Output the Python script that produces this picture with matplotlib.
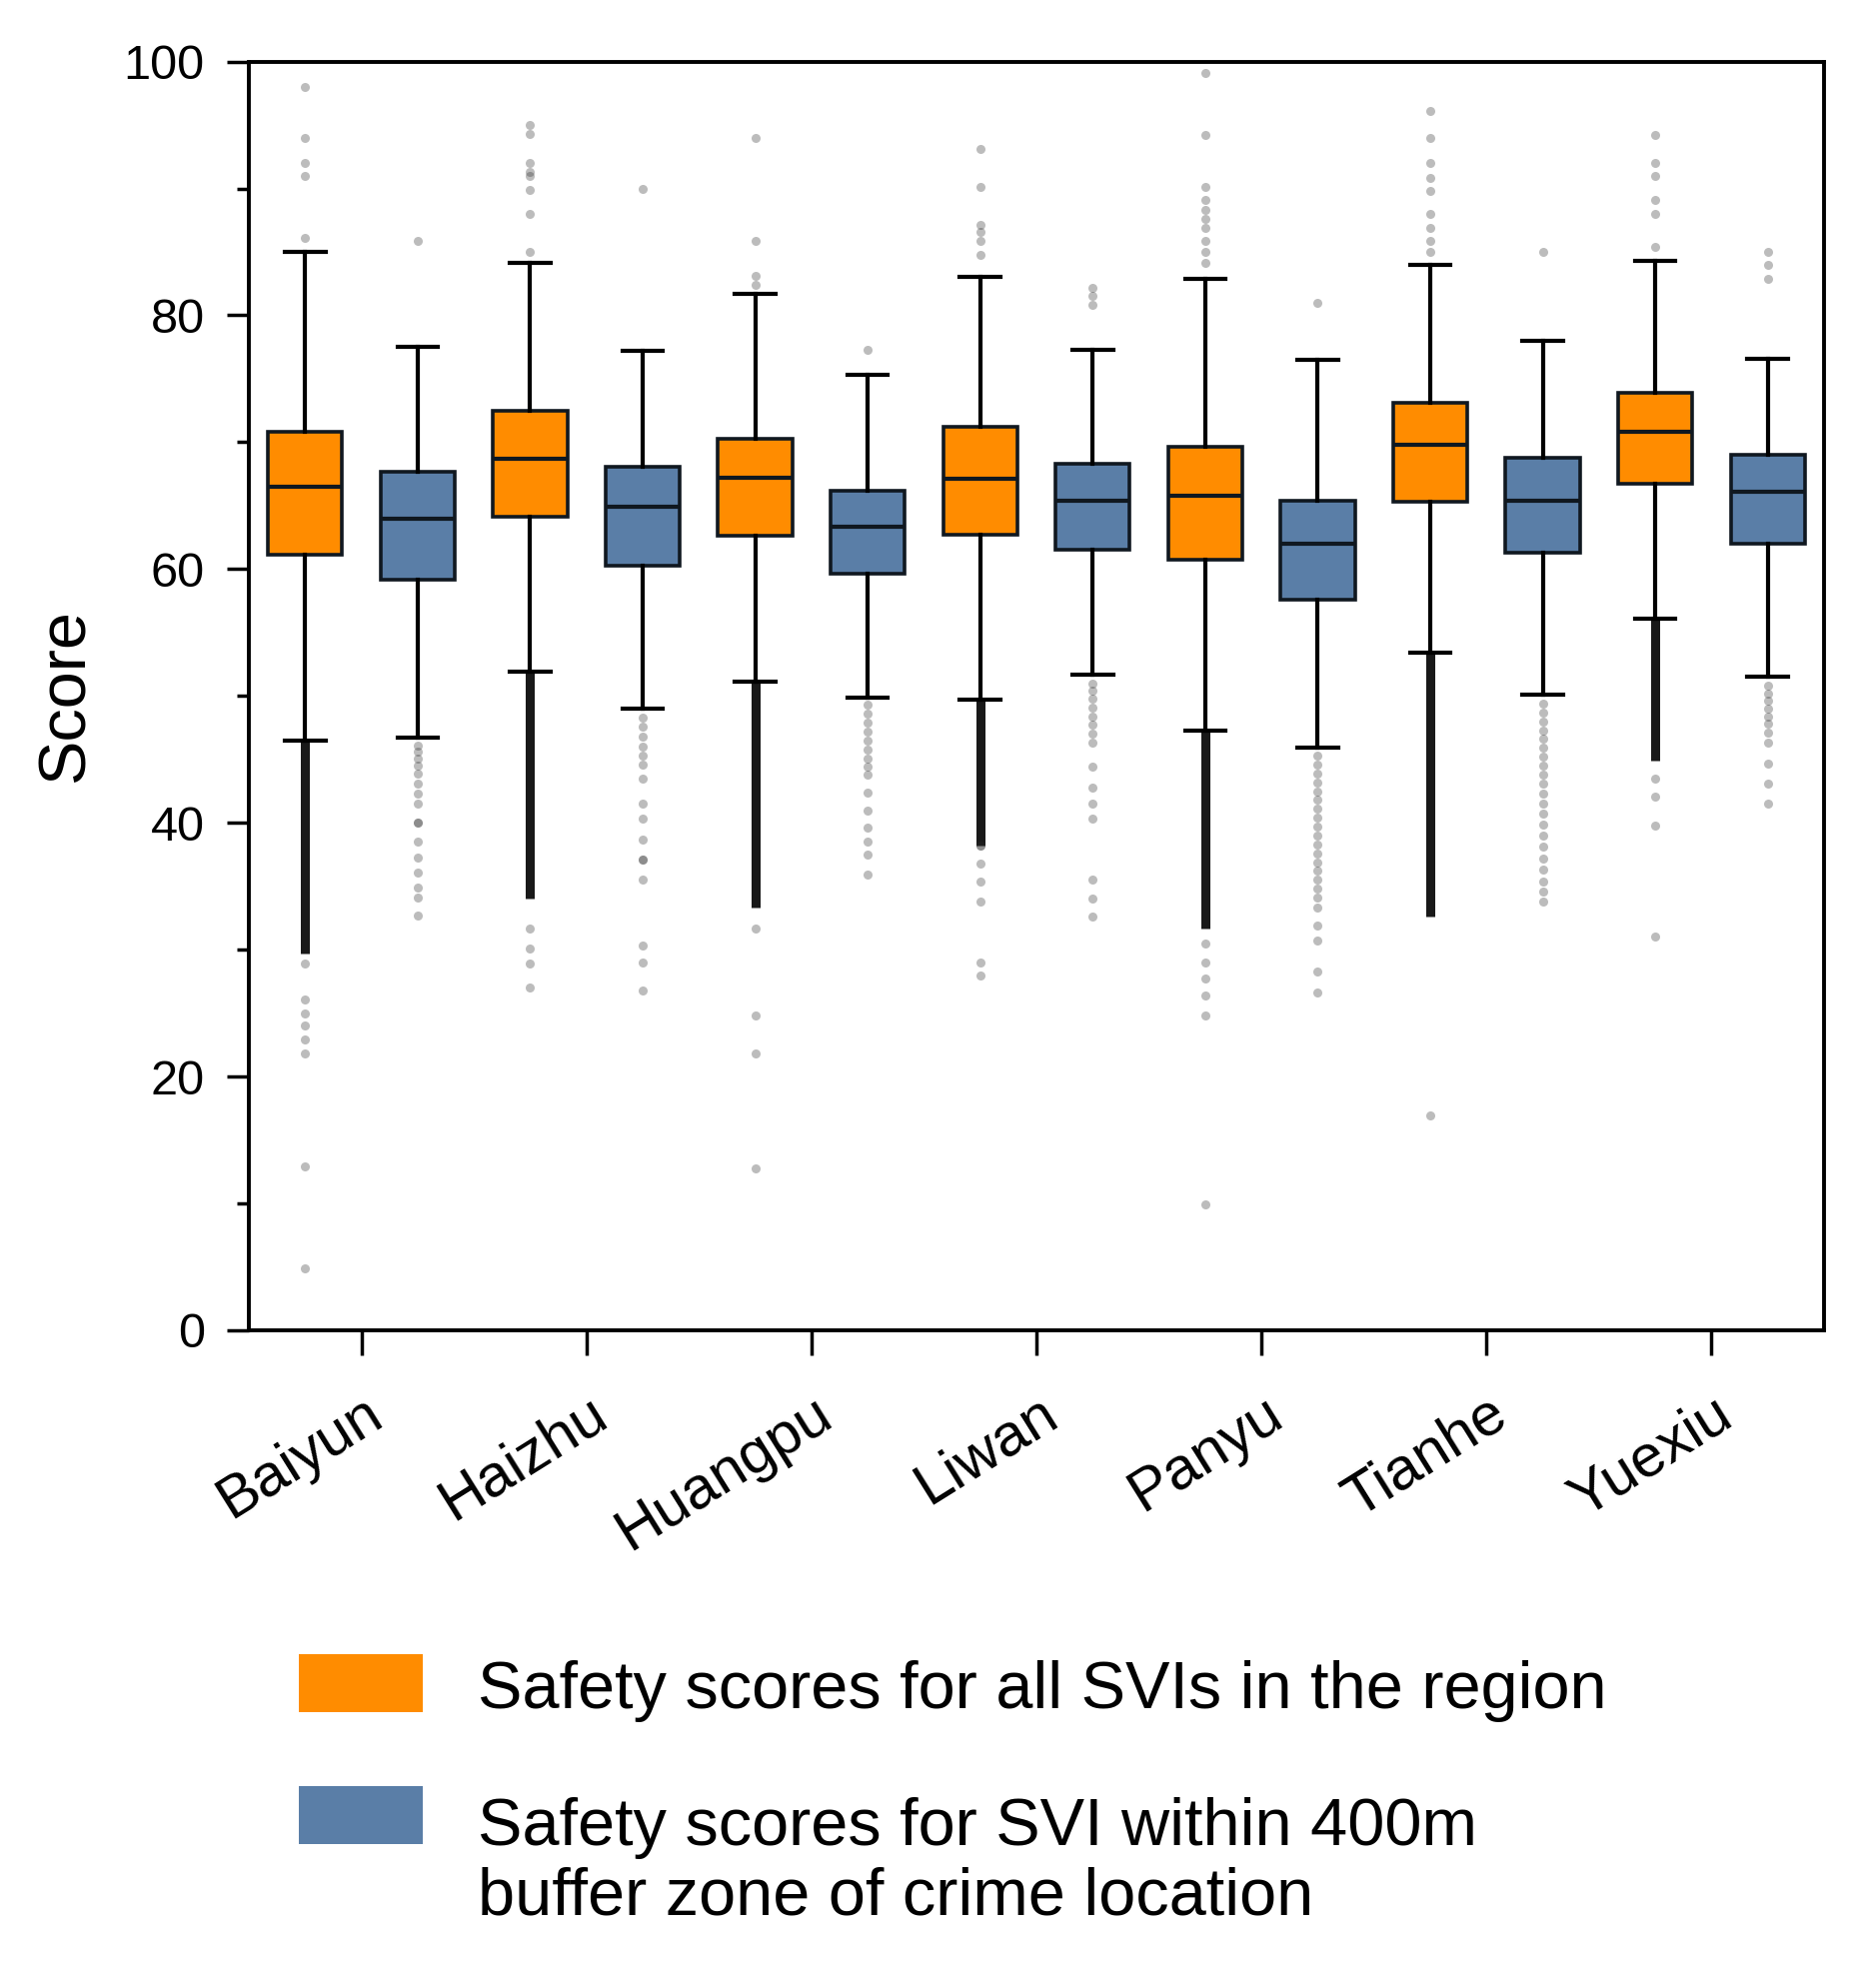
# Box plot of safety scores per district: all SVIs vs SVIs near crime locations
import numpy as np
import matplotlib
matplotlib.use('Agg')
import matplotlib.pyplot as plt
from matplotlib.patches import Rectangle
from matplotlib.transforms import ScaledTranslation
from matplotlib.ticker import MultipleLocator

plt.rcParams['font.family'] = ['Liberation Sans', 'DejaVu Sans']

districts = ['Baiyun', 'Haizhu', 'Huangpu', 'Liwan', 'Panyu', 'Tianhe', 'Yuexiu']

# Safety scores for all SVIs in the region
all_lo = [46.5, 51.9, 51.1, 49.7, 47.3, 53.4, 56.1]
all_q1 = [61.1, 64.1, 62.6, 62.7, 60.7, 65.3, 66.7]
all_med = [66.5, 68.7, 67.2, 67.1, 65.8, 69.8, 70.8]
all_q3 = [70.8, 72.5, 70.3, 71.2, 69.6, 73.1, 73.9]
all_hi = [85.0, 84.1, 81.7, 83.0, 82.9, 84.0, 84.3]

all_upper_out = [
    [98.0, 94.0, 92.0, 91.0, 86.1],
    [95.0, 94.3, 92.0, 91.3, 91.0, 89.9, 88.0, 85.0],
    [94.0, 85.9, 83.1, 82.4],
    [93.1, 90.1, 87.1, 86.6, 85.9, 84.8],
    [99.1, 94.2, 90.1, 89.1, 88.3, 87.6, 86.9, 85.9, 85.0, 84.1],
    [96.1, 94.0, 92.0, 90.8, 89.8, 88.0, 86.9, 85.9, 85.0],
    [94.2, 92.0, 91.0, 89.1, 88.0, 85.4],
]
all_lower_out = [
    [28.9, 26.1, 25.0, 24.0, 22.9, 21.8, 12.9, 4.9],
    [31.7, 30.1, 28.9, 27.0],
    [31.7, 24.8, 21.8, 12.8],
    [38.2, 38.2, 36.8, 35.4, 33.8, 29.0, 28.0],
    [30.5, 29.0, 27.7, 26.4, 24.8, 9.9],
    [16.9],
    [43.5, 42.1, 39.8, 31.0],
]
# runs of outliers so dense they merge into a solid streak (low, high)
all_dense_lo = [29.7, 34.0, 33.3, 38.2, 31.7, 32.6, 44.9]
all_dense_hi = [46.5, 51.9, 51.1, 49.7, 47.3, 53.4, 56.1]

# Safety scores for SVI within 400m buffer zone of crime location
buf_lo = [46.7, 49.0, 49.9, 51.7, 45.9, 50.1, 51.5]
buf_q1 = [59.2, 60.3, 59.6, 61.5, 57.6, 61.3, 62.0]
buf_med = [64.0, 64.9, 63.3, 65.4, 62.0, 65.4, 66.1]
buf_q3 = [67.7, 68.1, 66.2, 68.3, 65.4, 68.8, 69.0]
buf_hi = [77.5, 77.2, 75.3, 77.3, 76.5, 78.0, 76.6]

buf_upper_out = [
    [85.9],
    [90.0],
    [77.3],
    [82.2, 81.5, 80.8],
    [81.0],
    [85.0],
    [85.0, 84.0, 82.9],
]
buf_lower_out = [
    [46.1, 45.6, 45.1, 44.5, 43.9, 43.1, 42.3, 41.5, 40.0, 40.0, 38.5, 37.3, 36.1, 34.9, 34.1, 32.7],
    [48.3, 47.6, 46.8, 46.0, 45.3, 44.6, 43.5, 41.5, 40.3, 38.7, 37.1, 37.1, 35.5, 30.3, 29.0, 26.8],
    [49.3, 48.6, 47.9, 47.2, 46.5, 45.8, 45.1, 44.4, 43.8, 42.4, 41.0, 39.6, 38.5, 37.5, 35.9],
    [51.0, 50.4, 49.8, 49.1, 48.4, 47.7, 47.0, 46.3, 44.4, 42.8, 41.5, 40.3, 35.5, 34.0, 32.6],
    [45.3, 44.6, 43.9, 43.2, 42.5, 41.8, 41.1, 40.4, 39.7, 39.0, 38.3, 37.6, 36.9, 36.2,
     35.5, 34.8, 34.1, 33.3, 31.9, 30.7, 28.3, 26.6],
    [49.4, 48.7, 48.0, 47.3, 46.6, 45.9, 45.2, 44.5, 43.8, 43.1, 42.3, 41.5, 40.7, 39.9,
     39.0, 38.1, 37.2, 36.3, 35.4, 34.6, 33.8],
    [50.8, 50.2, 49.6, 49.0, 48.4, 47.8, 47.1, 46.3, 44.7, 43.1, 41.5],
]

legend_labels = ['Safety scores for all SVIs in the region',
                 'Safety scores for SVI within 400m\nbuffer zone of crime location']

ORANGE = '#FF8C00'
BLUE = '#5A7EA7'
EDGE = '#101820'


def make_stats(lo, q1, med, q3, hi, upper, lower):
    stats = []
    for i in range(len(lo)):
        stats.append(dict(whislo=lo[i], q1=q1[i], med=med[i], q3=q3[i],
                          whishi=hi[i], fliers=upper[i] + lower[i]))
    return stats


W, H = 1877, 1977
fig = plt.figure(figsize=(W / 100, H / 100), dpi=100)
ax = fig.add_axes([249 / W, 1 - 1331 / H, 1576 / W, 1269.4 / H])

x = np.arange(len(districts))

# dense outlier streaks below the orange boxes
ax.vlines(x - 0.25, all_dense_lo, all_dense_hi, colors='#000000', linewidth=6.5,
          alpha=0.9, zorder=1)

groups = [
    (make_stats(all_lo, all_q1, all_med, all_q3, all_hi, all_upper_out, all_lower_out), -0.25, ORANGE),
    (make_stats(buf_lo, buf_q1, buf_med, buf_q3, buf_hi, buf_upper_out, buf_lower_out), 0.25, BLUE),
]
for stats, off, color in groups:
    ax.bxp(stats, positions=x + off, widths=0.33, capwidths=0.18,
           patch_artist=True, manage_ticks=False,
           boxprops=dict(facecolor=color, edgecolor=EDGE, linewidth=2.6),
           medianprops=dict(color=EDGE, linewidth=3.0),
           whiskerprops=dict(color='black', linewidth=3.0),
           capprops=dict(color='black', linewidth=3.0),
           flierprops=dict(marker='o', markersize=6.5, markerfacecolor='#222222',
                           markeredgewidth=0, alpha=0.3, linestyle='none'))

ax.set_xlim(-0.5, len(districts) - 0.5)
ax.set_ylim(0, 100)
ax.yaxis.set_major_locator(MultipleLocator(20))
ax.yaxis.set_minor_locator(MultipleLocator(10))
ax.tick_params(axis='y', which='major', length=15.8, width=2.5, labelsize=35, pad=16)
ax.tick_params(axis='y', which='minor', length=8.6, width=2.5)
ax.tick_params(axis='x', which='major', length=18, width=2.5, labelsize=43, pad=22)
ax.set_xticks(x)
ax.set_xticklabels(districts, rotation=32, ha='right', va='top', rotation_mode='anchor')
shift = ScaledTranslation(0.01, 0, fig.dpi_scale_trans)
for lbl in ax.get_xticklabels():
    lbl.set_transform(lbl.get_transform() + shift)
for sp in ax.spines.values():
    sp.set_linewidth(2.8)

fig.text(67 / W, 1 - 696 / H, 'Score', rotation=90, fontsize=48, ha='center', va='center')

# legend drawn by hand so the patch lines up with the first text line
for color, top, base_y, label in [(ORANGE, 1655, 1709, legend_labels[0]),
                                  (BLUE, 1787, 1916, legend_labels[1])]:
    fig.add_artist(Rectangle((299 / W, 1 - (top + 58) / H), 124 / W, 58 / H,
                             transform=fig.transFigure, facecolor=color, edgecolor='none'))
    fig.text(478 / W, 1 - base_y / H, label, fontsize=48, ha='left', va='baseline',
             linespacing=1.165)

fig.savefig('out.png', dpi=100)
